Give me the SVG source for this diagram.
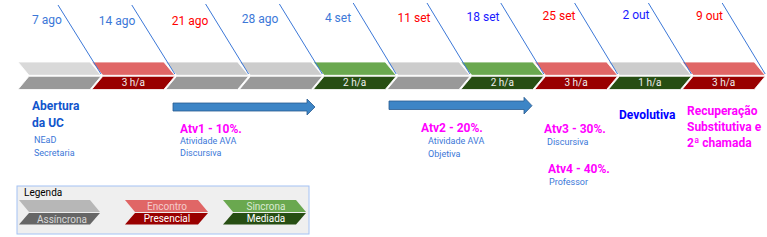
<svg xmlns="http://www.w3.org/2000/svg" xmlns:xlink="http://www.w3.org/1999/xlink" width="767" height="237" viewBox="0 0 767 237">
<style>
text{font-family:Roboto,"Liberation Sans",Arial,sans-serif}
.date{font-size:12px}
.blue{fill:#3c78d8}
.dblue{fill:#1a1aff}
.red{fill:#ff0000}
.seg{stroke:#ffffff;stroke-width:0.8}
.lg{fill:#d9d9d9}.mg{fill:#cccccc}.dg{fill:#999999}
.lr{fill:#e06666}.dr{fill:#990000}
.lgr{fill:#6aa84f}.dgr{fill:#274e13}
.ha{font-size:10px;fill:#eeeeee;text-anchor:middle}
.tick{stroke:#3c78d8;stroke-width:1;fill:none}
.bold{font-size:12px;font-weight:bold}
.small{font-size:9px;fill:#3c78d8}
.mag{fill:#ff00ff}
.arrow{fill:#3d85c6;stroke:#2a5a8f;stroke-width:0.8}
.leg{font-size:10px;text-anchor:middle}
</style>
<defs>
<polygon id="top" points="0,62 72,62 83,75.3 11,75.3"/>
<polygon id="bot" points="11,76.3 83,76.3 72,89.5 0,89.5"/>
</defs>

<g id="timeline">
<g id="seg1"><use xlink:href="#top" x="18" class="seg lg"/><use xlink:href="#bot" x="18" class="seg dg"/></g>
<g id="seg2"><use xlink:href="#top" x="91.8" class="seg lr"/><use xlink:href="#bot" x="91.8" class="seg dr"/><text x="133.3" y="86" class="ha">3 h/a</text></g>
<g id="seg3"><use xlink:href="#top" x="165.6" class="seg mg"/><use xlink:href="#bot" x="165.6" class="seg dg"/></g>
<g id="seg4"><use xlink:href="#top" x="239.4" class="seg mg"/><use xlink:href="#bot" x="239.4" class="seg dg"/></g>
<g id="seg5"><use xlink:href="#top" x="313.2" class="seg lgr"/><use xlink:href="#bot" x="313.2" class="seg dgr"/><text x="354.7" y="86" class="ha">2 h/a</text></g>
<g id="seg6"><use xlink:href="#top" x="387" class="seg mg"/><use xlink:href="#bot" x="387" class="seg dg"/></g>
<g id="seg7"><use xlink:href="#top" x="460.8" class="seg lgr"/><use xlink:href="#bot" x="460.8" class="seg dgr"/><text x="502.3" y="86" class="ha">2 h/a</text></g>
<g id="seg8"><use xlink:href="#top" x="534.6" class="seg lr"/><use xlink:href="#bot" x="534.6" class="seg dr"/><text x="576.1" y="86" class="ha">3 h/a</text></g>
<g id="seg9"><use xlink:href="#top" x="608.4" class="seg mg"/><use xlink:href="#bot" x="608.4" class="seg dgr"/><text x="649.9" y="86" class="ha">1 h/a</text></g>
<g id="seg10"><use xlink:href="#top" x="682.2" class="seg lr"/><use xlink:href="#bot" x="682.2" class="seg dr"/><text x="723.7" y="86" class="ha">3 h/a</text></g>
</g>

<g id="connectors">
<line class="tick" x1="58" y1="5" x2="101" y2="74"/>
<line class="tick" x1="131.8" y1="5" x2="174.8" y2="74"/>
<line class="tick" x1="205.6" y1="4" x2="248.6" y2="74"/>
<line class="tick" x1="279.4" y1="4" x2="322.4" y2="74"/>
<line class="tick" x1="353.2" y1="3" x2="396.2" y2="74"/>
<line class="tick" x1="427" y1="3" x2="470" y2="74"/>
<line class="tick" x1="500.8" y1="3" x2="543.8" y2="74"/>
<line class="tick" x1="574.6" y1="3" x2="617.6" y2="74"/>
<line class="tick" x1="648.4" y1="3" x2="691.4" y2="74"/>
<line class="tick" x1="722.2" y1="3" x2="765.2" y2="74"/>
<polygon id="arrow1" class="arrow" points="173,103 307,103 307,99 315,107 307,115 307,111 173,111"/>
<polygon id="arrow2" class="arrow" points="389,101 524,101 524,97.3 532,105.7 524,114 524,109.5 389,109.5"/>
</g>

<g id="dates" text-anchor="middle">
<text x="47" y="24" class="date blue">7 ago</text>
<text x="117" y="25" class="date blue">14 ago</text>
<text x="190" y="25" class="date red">21 ago</text>
<text x="260" y="23" class="date blue">28 ago</text>
<text x="338" y="22" class="date blue">4 set</text>
<text x="414" y="22" class="date red">11 set</text>
<text x="483" y="21" class="date dblue">18 set</text>
<text x="559" y="20" class="date red">25 set</text>
<text x="636" y="19" class="date dblue">2 out</text>
<text x="709.5" y="20" class="date red">9 out</text>
</g>

<g id="abertura">
<text x="32" y="110" class="bold" fill="#1155cc">Abertura</text>
<text x="32" y="127" class="bold" fill="#1155cc">da UC</text>
<text x="34" y="143" class="small">NEaD</text>
<text x="34" y="156" class="small">Secretaria</text>
</g>

<g id="atv1">
<text x="180" y="133" class="bold mag">Atv1 - 10%.</text>
<text x="180" y="144" class="small">Atividade AVA</text>
<text x="180" y="156" class="small">Discursiva</text>
</g>

<g id="atv2">
<text x="421" y="132" class="bold mag">Atv2 - 20%.</text>
<text x="428" y="144" class="small">Atividade AVA</text>
<text x="428" y="157" class="small">Objetiva</text>
</g>

<g id="atv3">
<text x="544" y="133" class="bold mag">Atv3 - 30%.</text>
<text x="547" y="145" class="small">Discursiva</text>
</g>

<g id="atv4">
<text x="548" y="173" class="bold mag">Atv4 - 40%.</text>
<text x="549" y="184.5" class="small">Professor</text>
</g>

<g id="devolutiva">
<text x="619" y="118.5" class="bold" fill="#0000ff">Devolutiva</text>
</g>

<g id="recuperacao">
<text x="687" y="115" class="bold mag">Recuperação</text>
<text x="687" y="131" class="bold mag">Substitutiva e</text>
<text x="687" y="147" class="bold mag">2ª chamada</text>
</g>

<g id="legenda">
<rect x="17" y="186" width="292" height="48" fill="#efefef" stroke="#a4c2f4" stroke-width="1"/>
<text x="24" y="196" font-size="10px" fill="#000000">Legenda</text>
<polygon points="19,200 90,200 100,212 29,212" fill="#b7b7b7"/>
<polygon points="29,213 100,213 90,224.5 19,224.5" fill="#666666"/>
<text x="62" y="222.5" class="leg" fill="#d9d9d9">Assíncrona</text>
<polygon points="125,200 198,200 208,212 135,212" fill="#e06666"/>
<polygon points="135,213 208,213 198,224.5 125,224.5" fill="#990000"/>
<text x="167" y="209.5" class="leg" fill="#f4cccc">Encontro</text>
<text x="167" y="221.5" class="leg" fill="#ffffff">Presencial</text>
<polygon points="223,200 296,200 306,212 233,212" fill="#6aa84f"/>
<polygon points="233,213 306,213 296,224.5 223,224.5" fill="#274e13"/>
<text x="266" y="209.5" class="leg" fill="#d9ead3">Sincrona</text>
<text x="266" y="221.5" class="leg" fill="#ffffff">Mediada</text>
</g>
</svg>
